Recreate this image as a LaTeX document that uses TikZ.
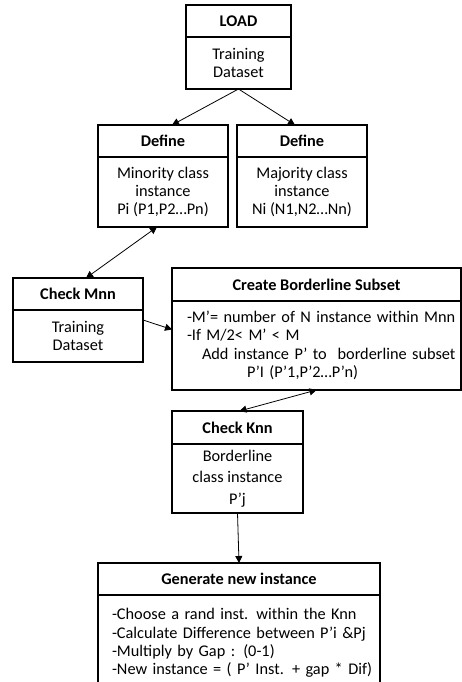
\documentclass[tikz,border=0pt]{standalone}
\usepackage{fontspec}
\setmainfont{Carlito}
\usetikzlibrary{arrows.meta, positioning}

\begin{document}
\begin{tikzpicture}[x=1pt, y=-1pt,
		head/.style={draw, line width=1.3pt, outer sep=0pt, inner sep=0pt, minimum height=32pt, font=\fontsize{16.3}{18.3}\selectfont\bfseries},
		body/.style={draw, line width=1.3pt, outer sep=0pt, inner sep=0pt, align=center, font=\fontsize{16.3}{18.3}\selectfont},
		link/.style={-{Triangle[length=7pt,width=7pt]}, line width=0.8pt},
		both/.style={{Triangle[length=7pt,width=7pt]}-{Triangle[length=7pt,width=7pt]}, line width=0.8pt}]
		% Page frame
		\useasboundingbox[fill=white] (0,0) rectangle (462,682);
		
		% Load the data
		\node[head, minimum width=105pt] (loadH) at (238.5,21) {LOAD};
		\node[body, minimum width=105pt, minimum height=52pt, below=0pt of loadH] (loadB) {Training\\Dataset};
		
		% Define the two classes
		\node[head, minimum width=130pt] (defLH) at (163,141) {Define};
		\node[body, minimum width=130pt, minimum height=70pt, below=0pt of defLH] (defLB) {Minority class\\instance\\Pi (P1,P2…Pn)};
		\node[head, minimum width=130pt] (defRH) at (302,141) {Define};
		\node[body, minimum width=130pt, minimum height=70pt, below=0pt of defRH] (defRB) {Majority class\\instance\\Ni (N1,N2…Nn)};
		
		% Check Mnn
		\node[head, minimum width=130pt] (mnnH) at (78,294) {Check Mnn};
		\node[body, minimum width=130pt, minimum height=52pt, below=0pt of mnnH] (mnnB) {Training\\Dataset};
		
		% Borderline subset
		\node[head, minimum width=289pt, minimum height=33pt] (bordH) at (316.5,284.5) {Create Borderline Subset};
		\node[body, align=left, inner xsep=15pt, text width=259pt, minimum height=89pt, below=0pt of bordH] (bordB)
			{\mbox{-M’= number of N instance within Mnn}\\
			 \mbox{-If M/2< M’ < M}\\
			 \mbox{\hspace*{15pt}Add instance P’ to\ \ borderline subset}\\
			 \mbox{\hspace*{60pt}P’I (P’1,P’2…P’n)}};
		
		% Check Knn
		\node[head, minimum width=131pt, minimum height=33pt] (knnH) at (237.5,427.5) {Check Knn};
		\node[body, minimum width=131pt, minimum height=69pt, below=0pt of knnH] (knnB) {Borderline\\[3pt]class instance\\[3pt]P’j};
		
		% Generate new instance
		\node[head, minimum width=282pt] (genH) at (239,579) {Generate new instance};
		\node[body, align=left, inner xsep=14pt, text width=254pt, minimum height=96pt, below=0pt of genH] (genB)
			{\mbox{-Choose a rand inst. within the Knn}\\
			 \mbox{-Calculate Difference\ between P’i \&Pj}\\
			 \mbox{-Multiply by Gap : (0-1)}\\
			 \mbox{-New instance = ( P’ Inst. + gap * Dif)}};
		
		% Connectors
		\draw[link] (loadB.south) -- ([xshift=9pt]defLH.north);
		\draw[link] (loadB.south) -- ([xshift=-7pt]defRH.north);
		\draw[both] ([xshift=-6pt]defLB.south) -- ([xshift=8pt]mnnH.north);
		\draw[link] ([yshift=16pt]mnnB.east) -- ([yshift=16pt]bordB.west);
		\draw[both] (bordB.south) -- ([xshift=2pt]knnH.north);
		\draw[link] (knnB.south) -- (genH.north);
	\end{tikzpicture}
\end{document}
